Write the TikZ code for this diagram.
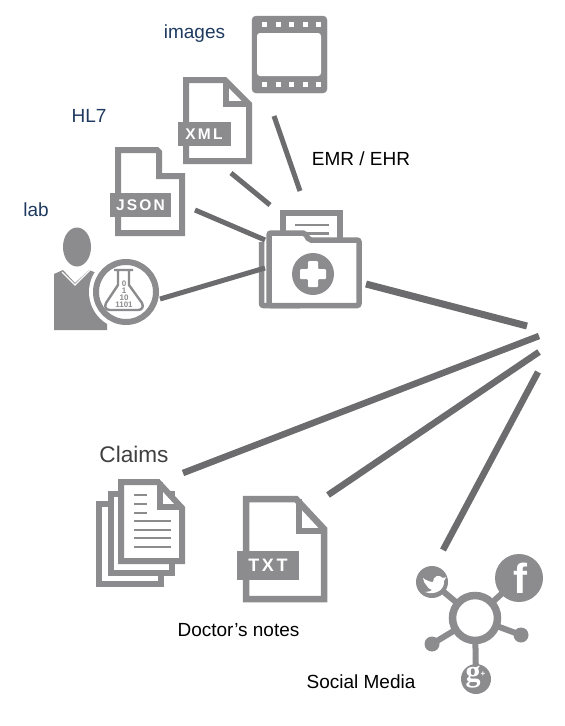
\documentclass[tikz,border=0pt]{standalone}
\usepackage{fontspec}
\setmainfont{Liberation Sans}
\newfontfamily\spaced[LetterSpace=14]{Liberation Sans}
\newfontfamily\gfont{Liberation Serif}
\definecolor{icon}{HTML}{8C8C8E}
\definecolor{conn}{HTML}{6C6C6E}
\definecolor{navy}{HTML}{1F3A5F}
\tikzset{
  iconline/.style={draw=icon,line width=6pt,fill=white,line join=miter},
  thinline/.style={draw=icon,line width=2.2pt},
  tag/.style={fill=icon,draw=none,inner sep=0pt,text=white,font=\spaced\bfseries\fontsize{15.5}{15.5}\selectfont},
  link/.style={draw=conn,line width=#1},
  bluelabel/.style={text=navy,font=\fontsize{19}{21}\selectfont,inner sep=0pt},
  blacklabel/.style={text=black,font=\fontsize{19}{21}\selectfont,inner sep=0pt},
}
\begin{document}
\begin{tikzpicture}[x=1pt,y=-1pt]
\useasboundingbox[fill=white] (0,0) rectangle (565,726);
% film
\draw[draw=icon,fill=icon,rounded corners=4pt] (252,16) rectangle (327,93);
\fill[white,rounded corners=3pt] (257,33) rectangle (321,76);
\foreach \hx in {264,278,291,305,318}{
  \fill[white] (\hx-2.5,22) rectangle (\hx+2.5,27);
  \fill[white] (\hx-2.5,82) rectangle (\hx+2.5,87);}
% XML
\draw[iconline] (186,80)--(225,80)--(249,104)--(249,161)--(186,161)--cycle;
\draw[draw=icon,line width=6pt] (226,80)--(226,104)--(249,104);
\node[tag,minimum width=53pt,minimum height=24pt] (xml) at (204,134) {XML};
% JSON
\draw[iconline] (118,150)--(157,150)--(159,152)--(159,176)--(182,176)--(182,233)--(118,233)--cycle;
\node[tag,minimum width=61pt,minimum height=24pt] (json) at (140.5,205) {JSON};
% person
\fill[icon] (77,247) ellipse[x radius=14,y radius=19.5];
\fill[icon] (54,274)--(63,270)--(75,283)--(89,270)--(107,277)--(107,330)--(54,330)--cycle;
\draw[white,line width=1.2pt] (62,272)--(75,285)--(90,270);
\fill[white] (126,292) circle[radius=37];
\draw[icon,line width=6pt,fill=white] (126,292) circle[radius=30];
% flask
\draw[icon,line width=2.4pt,line join=round] (114,270)--(133,270) (118,270)--(118,285)--(106,303) .. controls (104,307) and (106,310) .. (110,310)--(138,310) .. controls (142,310) and (144,307) .. (142,303)--(129,285)--(129,270);
\node[text=icon,inner sep=0pt,font=\fontsize{8}{8}\selectfont\bfseries,align=center] (bits) at (124,294) {0\\[-1pt]1\\[-1pt]10\\[-1pt]1101};
% folder paper
\draw[iconline] (283,213) rectangle (340,245);
\draw[thinline] (295,225)--(329,225) (295,233.5)--(329,233.5);
% folder
\draw[draw=icon,line width=5.5pt,rounded corners=2pt] (261.5,242)--(261.5,305.5)--(300,305.5);
\draw[iconline,line width=5.5pt,rounded corners=2pt] (269,233)--(305,233)--(309,240)--(359,240)--(359,305.5)--(269,305.5)--cycle;
\fill[icon] (313,274) circle[radius=21];
\fill[white,rounded corners=1pt] (308,261)--(318,261)--(318,269)--(326,269)--(326,279)--(318,279)--(318,287)--(308,287)--(308,279)--(300,279)--(300,269)--(308,269)--cycle;
% claims
\draw[iconline] (99,504) rectangle (160.5,583.5);
\draw[iconline] (111,494) rectangle (171.5,573);
\draw[iconline] (121,482)--(158,482)--(182,508)--(182,561)--(121,561)--cycle;
\draw[draw=icon,line width=6pt] (160,482)--(160,507)--(182,507);
\draw[thinline,line width=2.5pt] (134,495)--(147,495) (134,504)--(147,504) (134,513)--(147,513)
  (134,521)--(171,521) (134,530)--(171,530) (134,538)--(171,538) (134,547)--(171,547);
% TXT
\draw[iconline,line width=6.5pt] (246,499)--(296,499)--(324,529)--(324,599)--(246,599)--cycle;
\draw[draw=icon,line width=6.5pt] (299,499)--(299,531)--(324,531);
\node[tag,font=\spaced\bfseries\fontsize{18}{18}\selectfont,minimum width=62pt,minimum height=29pt] (txt) at (268,565.5) {TXT};
% social
\draw[icon,line width=6pt] (475,618)--(432,582) (475,618)--(519,578) (475,618)--(476,679) (475,618)--(432,644) (475,618)--(521,635);
\draw[icon,line width=7.5pt,fill=white] (475,618) circle[radius=22.5];
\fill[icon] (432,582) circle[radius=16];
\fill[icon] (519,578) circle[radius=24];
\fill[icon] (476,679) circle[radius=15];
\fill[icon] (432,644) circle[radius=7.5];
\fill[icon] (521,635) circle[radius=7.5];
\node[text=white,inner sep=0pt,font=\bfseries\fontsize{42}{42}\selectfont] (fb) at (520,578) {f};
\node[text=white,inner sep=0pt,font=\gfont\bfseries\fontsize{30}{30}\selectfont] (gp) at (473,677) {g};
\node[text=white,inner sep=0pt,font=\bfseries\fontsize{8}{8}\selectfont] (gplus) at (483,674) {+};
\fill[white] (423,578) .. controls (427,581) and (431,582) .. (433,582) .. controls (433,576) and (439,574) .. (443,578) -- (446,577) -- (444,581) .. controls (445,589) and (436,596) .. (425,592) .. controls (428,592) and (431,591) .. (432,590) .. controls (429,589) and (427,587) .. (427,586) .. controls (425,584) and (423,581) .. (423,578) -- cycle;
% texts
\node[bluelabel] (images) at (194.5,34) {images};
\node[bluelabel] (hl7) at (89,116) {HL7};
\node[bluelabel] (lab) at (36,209.5) {lab};
\node[blacklabel] (emr) at (361,158.5) {EMR / EHR};
\node[text=black!75,inner sep=0pt,font=\fontsize{22.6}{24}\selectfont] (claims) at (134,454.5) {Claims};
\node[blacklabel] (notes) at (238.5,630) {Doctor’s notes};
\node[blacklabel] (sm) at (361,682) {Social Media};
% connector ends
\coordinate (a1) at (274,116); \coordinate (a2) at (300,191);
\coordinate (b1) at (231,173); \coordinate (b2) at (270,205);
\coordinate (c1) at (195,210); \coordinate (c2) at (265,240);
\coordinate (d1) at (160,299); \coordinate (d2) at (265,268);
\coordinate (e1) at (366,284); \coordinate (e2) at (527,326);
\coordinate (f1) at (183,473); \coordinate (f2) at (539,336);
\coordinate (g1) at (328,495); \coordinate (g2) at (539,352);
\coordinate (h1) at (443,550); \coordinate (h2) at (538,372);
\draw[link=5pt] (a1)--(a2);
\draw[link=5pt] (b1)--(b2);
\draw[link=5pt] (c1)--(c2);
\draw[link=5pt] (d1)--(d2);
\draw[link=7pt] (e1)--(e2);
\draw[link=6.5pt] (f1)--(f2);
\draw[link=6.5pt] (g1)--(g2);
\draw[link=6.5pt] (h1)--(h2);
\end{tikzpicture}
\end{document}
